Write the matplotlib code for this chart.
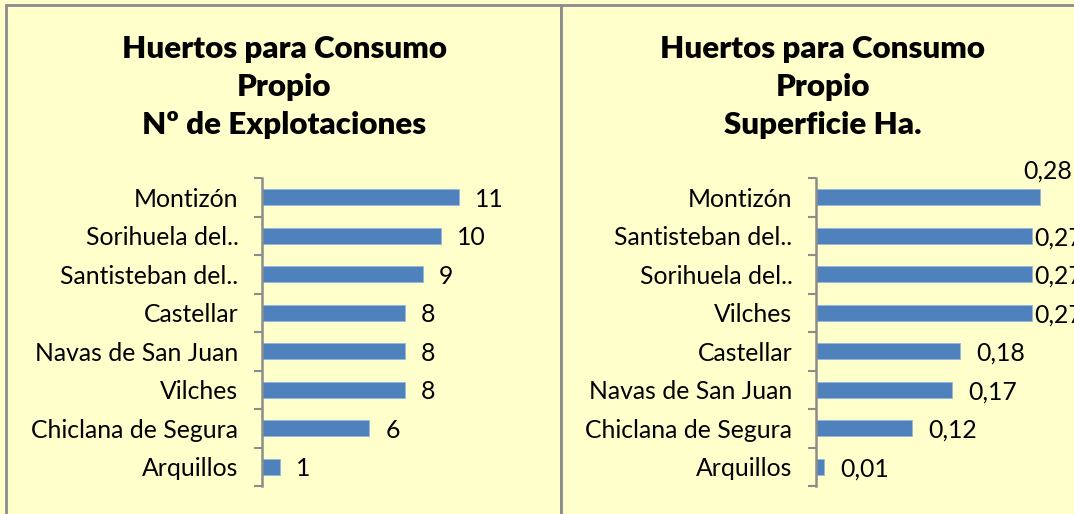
import numpy as np
import matplotlib
matplotlib.use("Agg")
import matplotlib.pyplot as plt
from matplotlib.patches import Rectangle

plt.rcParams["font.family"] = ["Lato", "DejaVu Sans"]

W, H = 1074, 514
DPI = 100

# datos
municipios_expl = ["Montizón", "Sorihuela del..", "Santisteban del..", "Castellar",
                   "Navas de San Juan", "Vilches", "Chiclana de Segura", "Arquillos"]
explotaciones = [11, 10, 9, 8, 8, 8, 6, 1]
etiq_expl = ["11", "10", "9", "8", "8", "8", "6", "1"]

municipios_sup = ["Montizón", "Santisteban del..", "Sorihuela del..", "Vilches",
                  "Castellar", "Navas de San Juan", "Chiclana de Segura", "Arquillos"]
superficie = [0.28, 0.27, 0.27, 0.27, 0.18, 0.17, 0.12, 0.01]
etiq_sup = ["0,28", "0,27", "0,27", "0,27", "0,18", "0,17", "0,12", "0,01"]

titulo_expl = "Huertos para Consumo\nPropio\nNº de Explotaciones"
titulo_sup = "Huertos para Consumo\nPropio\nSuperficie Ha."

fondo = "#FFFFCC"
borde = "#8C8C8C"
azul = "#4F81BD"

fig = plt.figure(figsize=(W / DPI, H / DPI), dpi=DPI)
fig.patch.set_facecolor(fondo)


def px(x0, y0, x1, y1):
    # pixel box (top-left origin) -> figure fraction rect
    return [x0 / W, 1 - y1 / H, (x1 - x0) / W, (y1 - y0) / H]


# marcos de los dos graficos
for x0, x1 in [(6, 561), (561, 1090)]:
    fig.patches.append(Rectangle((x0 / W, -0.1), (x1 - x0) / W, 1.1 - 5 / H,
                                 transform=fig.transFigure, facecolor=fondo,
                                 edgecolor=borde, linewidth=2, zorder=-5))


def panel(rect, xmax, cats, vals, labels, title, title_x, offsets):
    ax = fig.add_axes(rect)
    ax.set_zorder(2)
    ax.set_facecolor("none")
    y = np.arange(len(cats))
    ax.barh(y, vals, height=0.42, color=azul, edgecolor="#8EB4E3", linewidth=0.5)
    ax.set_ylim(len(cats) - 0.5, -0.5)
    ax.set_xlim(0, xmax)
    ax.set_yticks(np.arange(-0.5, len(cats), 1))
    ax.set_yticklabels([])
    ax.set_yticks(y, minor=True)
    ax.set_yticklabels(cats, minor=True, fontsize=17.8)
    ax.tick_params(axis="y", which="major", length=6, width=1.5, color=borde, direction="out")
    ax.tick_params(axis="y", which="minor", length=0, pad=17)
    ax.set_xticks([])
    for s in ["top", "right", "bottom"]:
        ax.spines[s].set_visible(False)
    ax.spines["left"].set_color(borde)
    ax.spines["left"].set_linewidth(1.8)
    for yi, v, lab, off in zip(y, vals, labels, offsets):
        ax.annotate(lab, (v, yi), xytext=off, textcoords="offset pixels",
                    ha="left", va="center", fontsize=17.8, annotation_clip=False)
    fig.text(title_x / W, 1 - 87 / H, title, ha="center", va="center",
             fontsize=22.5, fontweight="heavy", linespacing=1.42, zorder=3)
    return ax


panel(px(262, 178, 540, 486), 278 / 17.9, municipios_expl, explotaciones, etiq_expl,
      titulo_expl, 284, [(16, -2)] * 8)

off_sup = [(-17, 26), (2, -2), (2, -2), (2, -2), (16, -2), (16, -2), (16, -2), (16, -2)]
panel(px(816, 178, 1096, 486), 280 / 800, municipios_sup, superficie, etiq_sup,
      titulo_sup, 823, off_sup)

fig.savefig("out.png", dpi=DPI, facecolor=fondo)
